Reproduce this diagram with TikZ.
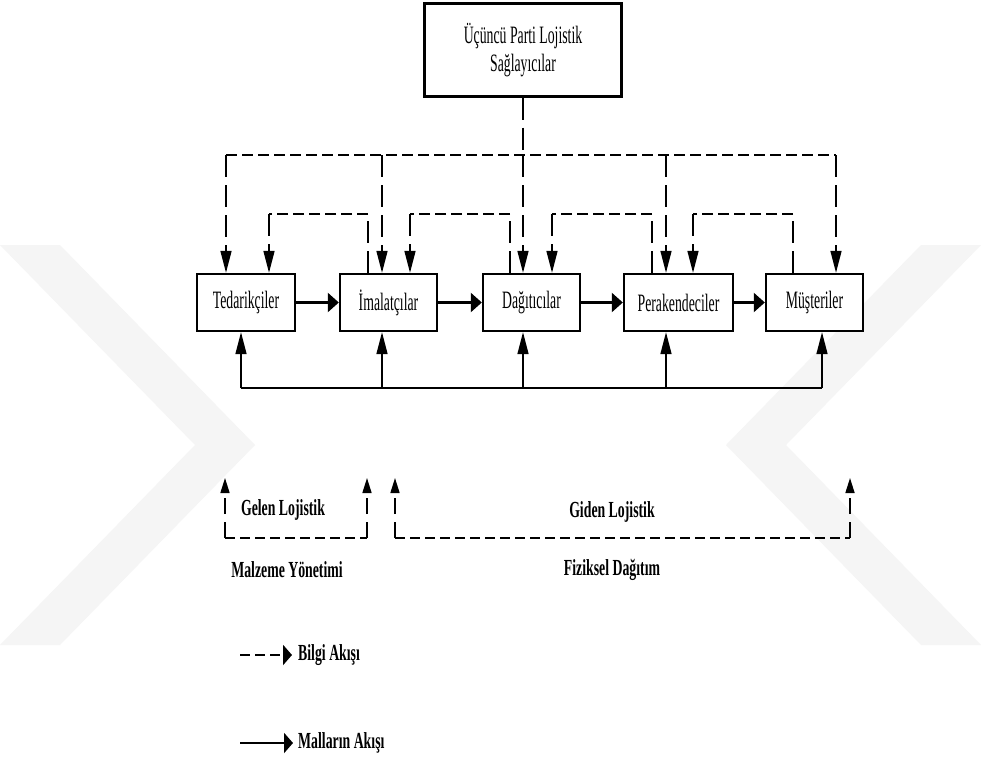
\documentclass[tikz,border=0pt]{standalone}
\usepackage{fontspec}
\newfontfamily\dfont{Liberation Serif}[FakeStretch=0.55]
\newfontfamily\bfont{Liberation Serif Bold}[FakeStretch=0.6]
\usetikzlibrary{arrows.meta}
\begin{document}
\begin{tikzpicture}[x=1pt,y=-1pt,
  box/.style={draw, line width=2.4pt, minimum height=57pt, inner sep=0pt,
    font=\dfont\fontsize{25}{28}\selectfont},
  lab/.style={font=\bfont\fontsize{23}{26}\selectfont, inner sep=0pt},
  hinfo/.style={line width=2.6pt, dash pattern=on 11pt off 5pt},
  vinfo/.style={line width=1.6pt, dash pattern=on 22pt off 8pt},
  vshort/.style={line width=1.6pt, dash pattern=on 16pt off 8pt},
  hgood/.style={line width=2.4pt},
  vgood/.style={line width=1.6pt},
  vtip/.style={-{Triangle[length=22pt,width=11pt]}},
  htip/.style={-{Triangle[length=11pt,width=19pt]}},
  btip/.style={-{Triangle[length=15pt,width=9pt]}},
  ltip/.style={-{Triangle[length=9pt,width=20pt]}},
  wm/.style={fill=black!4, draw=none}
]
\useasboundingbox (0,0) rectangle (981,760);
\fill[white] (0,0) rectangle (981,760);
% faint watermark
\fill[wm] (0,245) -- (60,245) -- (255,445) -- (60,645) -- (0,645) -- (195,445) -- cycle;
\fill[wm] (981,245) -- (921,245) -- (726,445) -- (921,645) -- (981,645) -- (786,445) -- cycle;

% nodes
\node[box, fill=white, minimum width=197pt, minimum height=93pt, align=center] (tpl) at (523,50)
  {Üçüncü Parti Lojistik\\Sağlayıcılar};
\node[box, fill=white, minimum width=98pt] (ted) at (246,302.5) {Tedarikçiler};
\node[box, fill=white, minimum width=97pt] (ima) at (388.5,302.5) {İmalatçılar};
\node[box, fill=white, minimum width=97pt] (dag) at (531.5,302.5) {Dağıtıcılar};
\node[box, fill=white, minimum width=109pt] (per) at (678.5,302.5) {Perakendeciler};
\node[box, fill=white, minimum width=97pt] (mus) at (814.5,302.5) {Müşteriler};

% top information bus
\coordinate (b1) at (226,155);
\coordinate (b2) at (382,155);
\coordinate (b3) at (523,155);
\coordinate (b4) at (666,155);
\coordinate (b5) at (836,155);
\draw[hinfo] (b1) -- (b5);
\draw[vinfo] (tpl.south) -- (b3);
\draw[vinfo,vtip] (b1) -- (b1 |- ted.north);
\draw[vinfo,vtip] (b2) -- (b2 |- ima.north);
\draw[vinfo,vtip] (b3) -- (b3 |- dag.north);
\draw[vinfo,vtip] (b4) -- (b4 |- per.north);
\draw[vinfo,vtip] (b5) -- (b5 |- mus.north);

% second level information loops
\coordinate (s1) at (368,214); \coordinate (d1) at (269,214);
\coordinate (s2) at (510,214); \coordinate (d2) at (410,214);
\coordinate (s3) at (652,214); \coordinate (d3) at (552,214);
\coordinate (s4) at (793,214); \coordinate (d4) at (693,214);
\draw[vinfo] (s1 |- ima.north) -- (s1);
\draw[hinfo] (s1) -- (d1);
\draw[vinfo,vtip] (d1) -- (d1 |- ted.north);
\draw[vinfo] (s2 |- dag.north) -- (s2);
\draw[hinfo] (s2) -- (d2);
\draw[vinfo,vtip] (d2) -- (d2 |- ima.north);
\draw[vinfo] (s3 |- per.north) -- (s3);
\draw[hinfo] (s3) -- (d3);
\draw[vinfo,vtip] (d3) -- (d3 |- dag.north);
\draw[vinfo] (s4 |- mus.north) -- (s4);
\draw[hinfo] (s4) -- (d4);
\draw[vinfo,vtip] (d4) -- (d4 |- per.north);

% goods flow
\draw[hgood,htip] (ted) -- (ima);
\draw[hgood,htip] (ima) -- (dag);
\draw[hgood,htip] (dag) -- (per);
\draw[hgood,htip] (per) -- (mus);

% bottom return bus
\coordinate (u1) at (241,388);
\coordinate (u2) at (382,388);
\coordinate (u3) at (523,388);
\coordinate (u4) at (666,388);
\coordinate (u5) at (822,388);
\draw[hgood] (u1) -- (u5);
\draw[vgood,vtip] (u1) -- (u1 |- ted.south);
\draw[vgood,vtip] (u2) -- (u2 |- ima.south);
\draw[vgood,vtip] (u3) -- (u3 |- dag.south);
\draw[vgood,vtip] (u4) -- (u4 |- per.south);
\draw[vgood,vtip] (u5) -- (u5 |- mus.south);

% inbound / outbound logistics
\coordinate (gl1) at (225,538); \coordinate (gt1) at (225,478);
\coordinate (gl2) at (367,538); \coordinate (gt2) at (367,478);
\draw[vshort,btip] (gl1) -- (gt1);
\draw[hinfo, dash pattern=on 10pt off 5pt] (gl1) -- (gl2);
\draw[vshort,btip] (gl2) -- (gt2);
\coordinate (gd1) at (395,538); \coordinate (gdt1) at (395,478);
\coordinate (gd2) at (850,538); \coordinate (gdt2) at (850,478);
\draw[vshort,btip] (gd1) -- (gdt1);
\draw[hinfo, dash pattern=on 10pt off 5pt] (gd1) -- (gd2);
\draw[vshort,btip] (gd2) -- (gdt2);

\node[lab] (gelen) at (283,510) {Gelen Lojistik};
\node[lab] (malz) at (287,570) {Malzeme Yönetimi};
\node[lab] (giden) at (612,512) {Giden Lojistik};
\node[lab] (fiz) at (612,570) {Fiziksel Dağıtım};

% legend
\coordinate (l1s) at (240,655); \coordinate (l1e) at (292,655);
\coordinate (l2s) at (240,743); \coordinate (l2e) at (293,743);
\draw[hinfo, line width=2.4pt, dash pattern=on 10pt off 5pt, ltip] (l1s) -- (l1e);
\draw[hgood, line width=2.6pt, ltip] (l2s) -- (l2e);
\node[lab, anchor=west] (bilgi) at (298,655) {Bilgi Akışı};
\node[lab, anchor=west] (mallar) at (298,743) {Malların Akışı};
\end{tikzpicture}
\end{document}
